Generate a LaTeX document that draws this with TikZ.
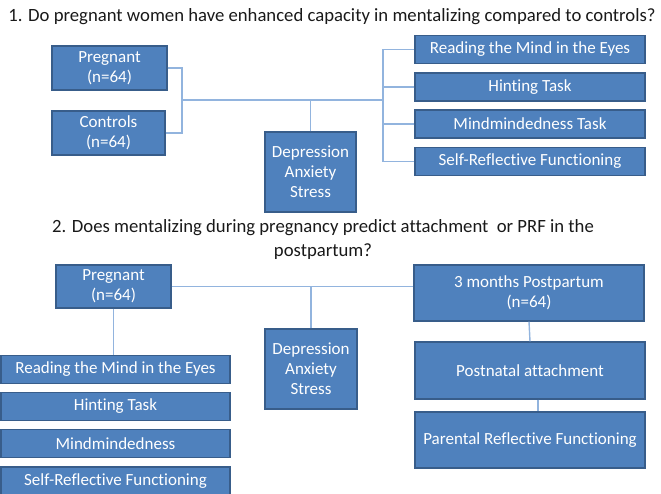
\documentclass[tikz,border=0pt]{standalone}
\usepackage{fontspec}
\setmainfont[Ligatures=NoCommon]{Carlito}
\usepackage{xcolor}
\usetikzlibrary{positioning,calc}
\definecolor{boxblue}{RGB}{79,129,189}
\definecolor{boxedge}{RGB}{56,93,138}
\definecolor{linkblue}{RGB}{146,180,222}

\tikzset{
  box/.style={draw=boxedge, fill=boxblue, line width=1.2pt, text=white, align=center,
    inner sep=0pt, font=\fontsize{17}{20}\selectfont},
  link/.style={draw=linkblue, line width=1.4pt},
  question/.style={align=center, text=black!90, font=\fontsize{18.7}{24}\selectfont}
}

\begin{document}
\begin{tikzpicture}[x=1pt, y=-1pt]
\useasboundingbox (0,0) rectangle (661,493);
\clip (0,0) rectangle (661,493);

% question 1
\node[question] (q1) at (332, 17) {1. Do pregnant women have enhanced capacity in mentalizing compared to controls?};

\node[box, minimum width=115pt, minimum height=44pt] (preg1) at (109.5, 68) {Pregnant\\(n=64)};
\node[box, minimum width=113pt, minimum height=44pt] (ctrl1) at (108.5, 133) {Controls\\(n=64)};
\node[box, minimum width=91pt, minimum height=80pt] (dep1) at (310.5, 172) {Depression\\Anxiety\\Stress};

\node[box, minimum width=230pt, minimum height=28pt] (task1) at (530, 49.5) {Reading the Mind in the Eyes};
\node[box, minimum width=230pt, minimum height=28pt] (task2) at (530, 87) {Hinting Task};
\node[box, minimum width=230pt, minimum height=28pt] (task3) at (530, 124) {Mindmindedness Task};
\node[box, minimum width=230pt, minimum height=28pt] (task4) at (530, 161.5) {Self-Reflective Functioning};

\coordinate (jleft) at (182, 100);
\coordinate (jright) at (383, 100);

\draw[link] (preg1.east) -| (jleft);
\draw[link] (ctrl1.east) -| (jleft);
\draw[link] (jleft) -- (jright);
\draw[link] (dep1.north) -- (dep1.north |- jleft);
\foreach \t in {task1,task2,task3,task4}
  \draw[link] (\t.west) -| (jright);

% question 2
\node[question] (q2) at (323, 240) {2. Does mentalizing during pregnancy predict attachment\ \ or PRF in the\\postpartum?};

\node[box, minimum width=115pt, minimum height=43pt] (preg2) at (113.5, 286.5) {Pregnant\\(n=64)};
\node[box, minimum width=92pt, minimum height=80pt] (dep2) at (311, 369) {Depression\\Anxiety\\Stress};
\node[box, minimum width=230pt, minimum height=56pt] (post) at (529, 293) {3 months Postpartum\\(n=64)};
\node[box, minimum width=230pt, minimum height=57pt] (attach) at (530, 370.5) {Postnatal attachment};
\node[box, minimum width=230pt, minimum height=56pt] (prf) at (530, 440) {Parental Reflective Functioning};

\node[box, minimum width=229pt, minimum height=28pt] (pre1) at (115.5, 369.5) {Reading the Mind in the Eyes};
\node[box, minimum width=229pt, minimum height=28pt] (pre2) at (115.5, 406.5) {Hinting Task};
\node[box, minimum width=229pt, minimum height=28pt] (pre3) at (115.5, 443.5) {Mindmindedness};
\node[box, minimum width=229pt, minimum height=28pt] (pre4) at (115.5, 481) {Self-Reflective Functioning};

\draw[link] (preg2.east) -- (preg2.east -| post.west);
\draw[link] (dep2.north) -- (dep2.north |- preg2.east);
\draw[link] (preg2.south) -- (preg2.south |- pre1.north);
\draw[link] (post.south) -- (attach.north);
\draw[link] ([xshift=8pt]attach.south) -- ([xshift=8pt]prf.north);

\end{tikzpicture}
\end{document}
